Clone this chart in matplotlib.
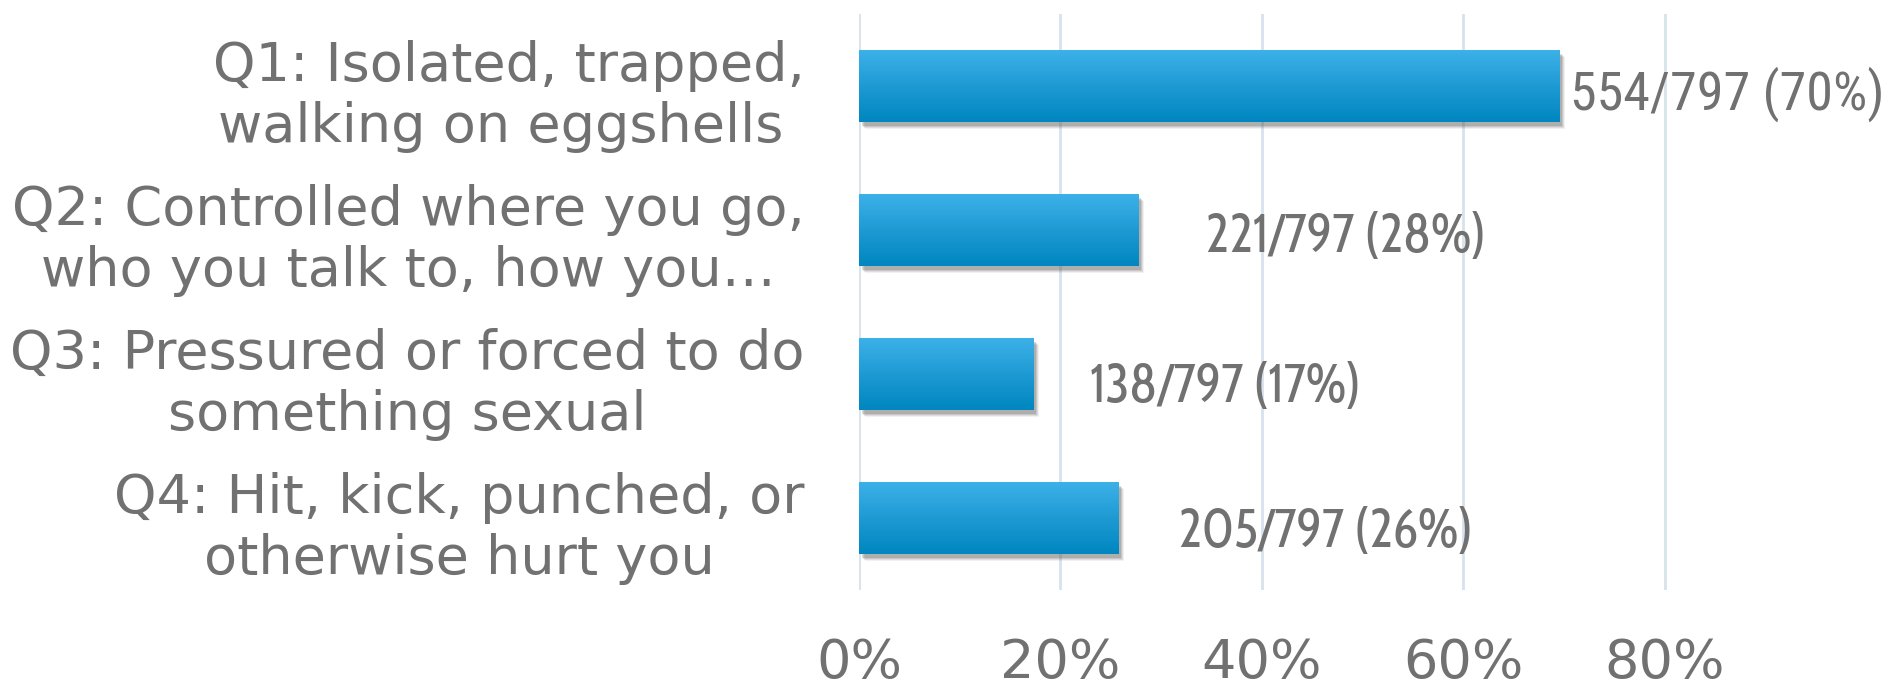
import matplotlib
matplotlib.use("Agg")
import matplotlib.pyplot as plt
import matplotlib.transforms as mtransforms
from matplotlib.colors import LinearSegmentedColormap
import numpy as np

# ---- data ----
categories = [
    "Q1: Isolated, trapped,\nwalking on eggshells ",
    "Q2: Controlled where you go,\nwho you talk to, how you\u2026",
    "Q3: Pressured or forced to do\nsomething sexual",
    "Q4: Hit, kick, punched, or\notherwise hurt you",
]
counts = [554, 221, 138, 205]
total = 797
xticks = [0.0, 0.2, 0.4, 0.6, 0.8]
xtick_labels = ["0%", "20%", "40%", "60%", "80%"]

# ---- style ----
label_offsets = [(8, -6), (48, -6), (41, -10), (43, -11)]   # points
label_fonts = ["Roboto Condensed", "Cabin Condensed", "Cabin Condensed", "Cabin Condensed"]
label_sizes = [39, 38, 38, 38]
text_color = "#717171"
grid_color = "#D6E2EC"

fracs = [c / total for c in counts]
labels = [f"{c}/{total} ({round(100 * c / total)}%)" for c in counts]

fig = plt.figure(figsize=(18.89, 6.8), dpi=100)
ax = fig.add_axes([859 / 1889, 1 - 590 / 680, (1846 - 859) / 1889, (590 - 14) / 680])

y = np.arange(len(categories))

ax.set_axisbelow(True)
ax.xaxis.grid(True, color=grid_color, linewidth=2)
ax.yaxis.grid(False)
for s in ax.spines.values():
    s.set_visible(False)

cmap = LinearSegmentedColormap.from_list("bar", ["#3DB1E8", "#1E9AD3", "#0086C0"])
grad = np.linspace(0, 1, 256).reshape(-1, 1)

bh = 0.5
# soft drop shadow
for dx, dy, a in [(6, -7, 0.08), (5, -6, 0.12), (4, -5, 0.16), (3, -4, 0.2)]:
    off = mtransforms.offset_copy(ax.transData, fig=fig, x=dx, y=dy, units="dots")
    ax.barh(y, fracs, height=bh, color="#505050", alpha=a, transform=off, zorder=2, linewidth=0)

bars = ax.barh(y, fracs, height=bh, color="none", linewidth=0, zorder=3)
for b in bars:
    x0, y0 = b.get_x(), b.get_y()
    w, h = b.get_width(), b.get_height()
    im = ax.imshow(grad, cmap=cmap, aspect="auto", extent=[x0, x0 + w, y0 + h, y0],
                   origin="upper", zorder=3, interpolation="bilinear")
    im.set_clip_path(b)
ax.set_xlim(0, 0.98)
ax.set_ylim(3.5, -0.5)

for i, (f, lab) in enumerate(zip(fracs, labels)):
    ax.annotate(lab, xy=(f, i), xytext=label_offsets[i], textcoords="offset points",
                ha="left", va="center", color=text_color,
                fontsize=label_sizes[i], family=label_fonts[i], zorder=4)

ax.set_xticks(xticks)
ax.set_xticklabels(xtick_labels)
ax.set_yticks(y)
ax.set_yticklabels(categories)
ax.tick_params(axis="x", length=0, pad=34, labelsize=39, labelcolor=text_color)
ax.tick_params(axis="y", length=0, pad=39, labelsize=39, labelcolor=text_color)
for t in ax.get_xticklabels():
    t.set_fontfamily("DejaVu Sans")
for t in ax.get_yticklabels():
    t.set_fontfamily("DejaVu Sans")
    t.set_multialignment("center")
    t.set_linespacing(1.24)

fig.savefig("out.png", dpi=100, facecolor="white")
